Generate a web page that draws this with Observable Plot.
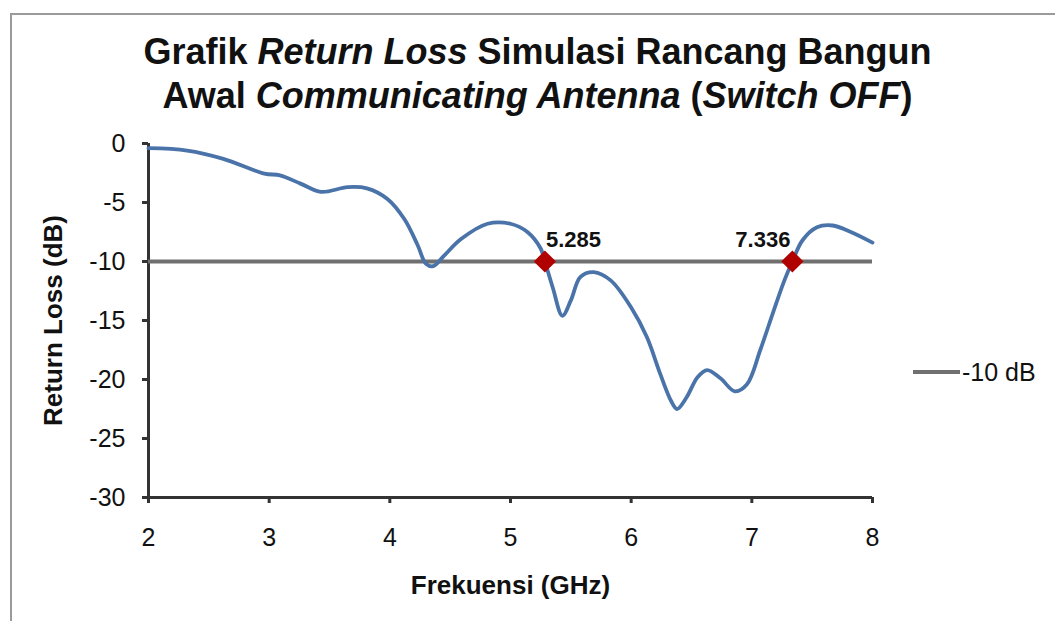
<!DOCTYPE html>
<html>
<head>
<meta charset="utf-8">
<script src="https://cdn.jsdelivr.net/npm/d3@7"></script>
<script src="https://cdn.jsdelivr.net/npm/@observablehq/plot@0.6"></script>
<style>
  html, body { margin: 0; padding: 0; background: #fff; }
  #wrap { position: relative; width: 1055px; height: 621px; overflow: hidden; font-family: "Liberation Sans", Arial, sans-serif; }
  #border { position: absolute; left: 10px; top: 13px; width: 1200px; height: 800px; border: 2px solid #9a9a9a; box-sizing: border-box; }
  #title { position: relative; height: 125px; box-sizing: border-box; padding-top: 30px; width: 1075px; text-align: center;
           font-weight: bold; font-size: 36px; line-height: 44px; color: #111; }
  #legend { position: absolute; left: 913px; top: 357px; font-size: 25px; color: #111; display: flex; align-items: center; height: 30px; }
  #legend .sw { width: 47px; height: 0; border-top: 4px solid #707070; margin-right: 2px; }
  #chart { position: relative; }
</style>
</head>
<body>
<div id="wrap">
  <div id="border"></div>
  <div id="title">Grafik <i>Return Loss</i> Simulasi Rancang Bangun<br>Awal <i>Communicating Antenna</i> (<i>Switch OFF</i>)</div>
  <div id="chart"></div>
  <div id="legend"><span class="sw"></span><span id="legtext"></span></div>
</div>
<script>
// Frequency (GHz) and simulated return loss (dB)
const freq = [2.00, 2.32, 2.62, 2.96, 3.09, 3.26, 3.43, 3.65, 3.81, 3.98, 4.12, 4.23, 4.30, 4.36, 4.45, 4.59, 4.81, 5.00, 5.14, 5.25, 5.285,
              5.35, 5.43, 5.50, 5.58, 5.69, 5.83, 6.00, 6.13, 6.24, 6.33, 6.38, 6.46, 6.55, 6.63, 6.74, 6.86, 6.96, 7.07, 7.18, 7.27, 7.336,
              7.42, 7.54, 7.67, 7.82, 8.00];
const returnLoss = [-0.4, -0.6, -1.3, -2.55, -2.7, -3.4, -4.1, -3.7, -3.8, -4.7, -6.4, -8.6, -10.2, -10.4, -9.5, -8.1, -6.8, -6.8, -7.5, -8.9, -10.0,
              -12.2, -14.6, -13.3, -11.3, -10.9, -11.6, -13.9, -16.4, -19.5, -21.8, -22.5, -21.5, -19.8, -19.2, -19.9, -21.0, -20.4, -17.5, -14.2, -11.6, -10.0,
              -8.2, -7.1, -6.95, -7.5, -8.4];
// -10 dB crossing frequencies (marked)
const crossings = [5.285, 7.336];
const threshold = -10;
const thresholdLabel = "-10 dB";
const xTicks = [2, 3, 4, 5, 6, 7, 8];
const yTicks = [0, -5, -10, -15, -20, -25, -30];
const xTitle = "Frekuensi (GHz)";
const yTitle = "Return Loss (dB)";

const data = freq.map((f, i) => ({f, rl: returnLoss[i]}));
const marks = crossings.map((f, i) => ({f, rl: threshold, anchor: i === 0 ? "start" : "end"}));

document.getElementById("legtext").textContent = thresholdLabel;

const chart = Plot.plot({
  width: 1055,
  height: 496,
  marginLeft: 148,
  marginRight: 183,
  marginTop: 18,
  marginBottom: 124,
  style: { fontFamily: "'Liberation Sans', Arial, sans-serif", background: "transparent", color: "#111", overflow: "visible" },
  x: { domain: [2, 8] },
  y: { domain: [-30, 0] },
  marks: [
    Plot.axisY({ ticks: yTicks, tickSize: 6, tickPadding: 17, fontSize: 25, stroke: "#333", strokeWidth: 3, label: null, tickFormat: d => String(d) }),
    Plot.axisX({ ticks: xTicks, tickSize: 6, tickPadding: 25, fontSize: 25, stroke: "#333", strokeWidth: 3, label: null, tickFormat: d => String(d) }),
    Plot.ruleX([2], { stroke: "#333", strokeWidth: 3 }),
    Plot.ruleY([-30], { stroke: "#333", strokeWidth: 3 }),
    Plot.ruleY([threshold], { stroke: "#707070", strokeWidth: 4 }),
    Plot.line(data, { x: "f", y: "rl", curve: "catmull-rom", stroke: "#4a74a9", strokeWidth: 3.8 }),
    Plot.dot(marks, { x: "f", y: "rl", symbol: "diamond2", r: 10, fill: "#b00000", stroke: "none" }),
    Plot.text(marks.filter(d => d.anchor === "start"), { x: "f", y: "rl", text: d => d.f.toFixed(3), textAnchor: "start", dy: -22, dx: 1, fontSize: 22, fontWeight: "bold", fill: "#111" }),
    Plot.text(marks.filter(d => d.anchor === "end"), { x: "f", y: "rl", text: d => d.f.toFixed(3), textAnchor: "end", dy: -22, dx: -2, fontSize: 22, fontWeight: "bold", fill: "#111" }),
    Plot.text([yTitle], { frameAnchor: "left", textAnchor: "middle", lineAnchor: "middle", dx: -95, rotate: -90, fontSize: 26, fontWeight: "bold", fill: "#111" }),
    Plot.text([xTitle], { frameAnchor: "bottom", textAnchor: "middle", lineAnchor: "middle", dy: 88, fontSize: 26, fontWeight: "bold", fill: "#111" })
  ]
});
document.getElementById("chart").appendChild(chart);
</script>
</body>
</html>
